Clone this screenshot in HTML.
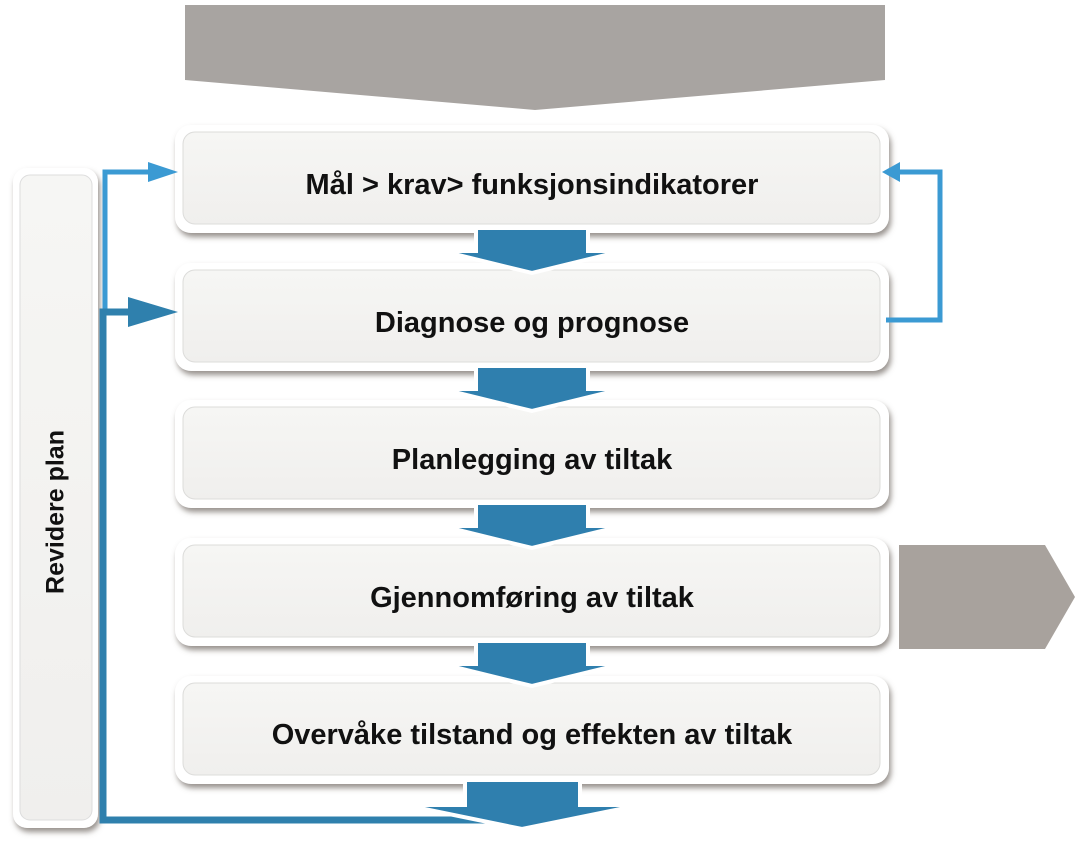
<!DOCTYPE html>
<html><head><meta charset="utf-8"><style>
html,body{margin:0;padding:0;background:#fff;}
svg{display:block;}
text{font-family:"Liberation Sans",sans-serif;font-weight:bold;fill:#111;}
</style></head><body>
<svg width="1080" height="847" viewBox="0 0 1080 847" xmlns="http://www.w3.org/2000/svg">
<defs>
<filter id="sh" x="-10%" y="-10%" width="120%" height="130%">
<feDropShadow dx="2" dy="4" stdDeviation="3" flood-color="#6a625c" flood-opacity="0.7"/>
</filter>
<linearGradient id="bg" x1="0" y1="0" x2="0" y2="1">
<stop offset="0" stop-color="#f6f6f4"/><stop offset="1" stop-color="#f0efed"/>
</linearGradient>
</defs>
<polygon points="185,5 885,5 885,80 535,110 185,80" fill="#a8a4a1"/>
<polygon points="899,545 1045,545 1075,597 1045,649 899,649" fill="#a8a29d"/>

<g filter="url(#sh)">
<rect x="13" y="168" width="85" height="660" rx="14" fill="#fff"/>
</g>
<rect x="20" y="175" width="72" height="645" rx="10" fill="url(#bg)" stroke="#ddd" stroke-width="1"/>
<text x="57" y="512" font-size="25" text-anchor="middle" transform="rotate(-90 57 512)" dominant-baseline="middle">Revidere plan</text>

<g filter="url(#sh)">
<rect x="175" y="125" width="714" height="108" rx="16" fill="#fff"/>
<rect x="175" y="263" width="714" height="108" rx="16" fill="#fff"/>
<rect x="175" y="400" width="714" height="108" rx="16" fill="#fff"/>
<rect x="175" y="538" width="714" height="108" rx="16" fill="#fff"/>
<rect x="175" y="676" width="714" height="108" rx="16" fill="#fff"/>
</g>
<g fill="url(#bg)" stroke="#dcdcda" stroke-width="1">
<rect x="183" y="132" width="697" height="92" rx="12"/>
<rect x="183" y="270" width="697" height="92" rx="12"/>
<rect x="183" y="407" width="697" height="92" rx="12"/>
<rect x="183" y="545" width="697" height="92" rx="12"/>
<rect x="183" y="683" width="697" height="92" rx="12"/>
</g>
<g font-size="29" text-anchor="middle">
<text x="532" y="194">Mål &gt; krav&gt; funksjonsindikatorer</text>
<text x="532" y="332">Diagnose og prognose</text>
<text x="532" y="469">Planlegging av tiltak</text>
<text x="532" y="607">Gjennomføring av tiltak</text>
<text x="532" y="744">Overvåke tilstand og effekten av tiltak</text>
</g>

<g fill="none" stroke-linejoin="miter">
<polyline points="105,312 105,172 160,172" stroke="#3b9ad3" stroke-width="5"/>
<polyline points="886,320 940,320 940,172 898,172" stroke="#3b9ad3" stroke-width="5"/>
<polyline points="540,820 103,820 103,312 150,312" stroke="#2f80ad" stroke-width="7"/>
</g>
<polygon points="148,162 178,172 148,182" fill="#3b9ad3"/>
<polygon points="900,162 882,172 900,182" fill="#3b9ad3"/>
<polygon points="128,297 178,312 128,327" fill="#2f80ad"/>

<g fill="#2f7fae" stroke="#fff" stroke-width="4" stroke-linejoin="miter">
<polygon points="476,228 588,228 588,251 622,251 532,273 442,251 476,251"/>
<polygon points="476,366 588,366 588,389 622,389 532,411 442,389 476,389"/>
<polygon points="476,503 588,503 588,526 622,526 532,548 442,526 476,526"/>
<polygon points="476,641 588,641 588,664 622,664 532,686 442,664 476,664"/>
<polygon points="465,780 580,780 580,805 640,805 522,829 405,805 465,805"/>
</g>
</svg>
</body></html>
